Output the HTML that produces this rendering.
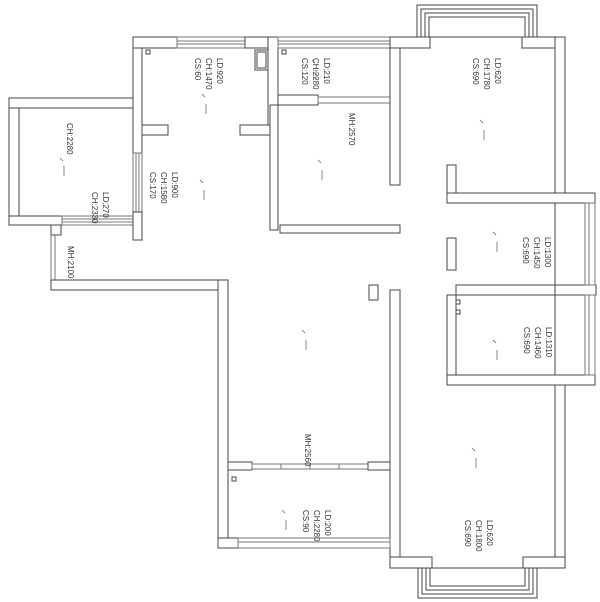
<!DOCTYPE html>
<html><head><meta charset="utf-8"><style>
html,body{margin:0;padding:0;background:#fff;}
svg{display:block}
text{font-family:"Liberation Sans",sans-serif;fill:#333;font-size:8px}
</style></head><body>
<svg width="600" height="602" viewBox="0 0 600 602" xmlns="http://www.w3.org/2000/svg">
<g fill="#fff" stroke="#444" stroke-width="1">
<rect x="9" y="98" width="10" height="127"/>
<rect x="9" y="98" width="124" height="10"/>
<rect x="9" y="216" width="53" height="9"/>
<rect x="62" y="216" width="71" height="9" stroke="#777"/>
<line x1="62" y1="219" x2="133" y2="219" stroke="#777"/>
<line x1="62" y1="222" x2="133" y2="222" stroke="#777"/>
<rect x="51" y="225" width="10" height="10"/>
<line x1="51" y1="235" x2="51" y2="280" stroke="#777"/>
<line x1="55" y1="235" x2="55" y2="280" stroke="#777"/>
<rect x="133" y="37" width="9" height="116"/>
<rect x="133" y="153" width="9" height="59" stroke="#777"/>
<line x1="136" y1="153" x2="136" y2="212" stroke="#777"/>
<line x1="139" y1="153" x2="139" y2="212" stroke="#777"/>
<rect x="133" y="212" width="9" height="28"/>
<rect x="133" y="37" width="44" height="11"/>
<rect x="177" y="37" width="68" height="11" stroke="#777"/>
<line x1="177" y1="41" x2="245" y2="41" stroke="#777"/>
<line x1="177" y1="44" x2="245" y2="44" stroke="#777"/>
<rect x="245" y="37" width="33" height="11"/>
<rect x="268" y="37" width="10" height="95"/>
<rect x="142" y="125" width="26" height="10"/>
<rect x="240" y="125" width="30" height="10"/>
<path d="M255 50 h13 v20 h-13 z M257 52 h9 v16 h-9 z" stroke="#444"/>
<rect x="146" y="50" width="4" height="4"/>
<rect x="278" y="37" width="112" height="11" stroke="#777"/>
<line x1="278" y1="41" x2="390" y2="41" stroke="#777"/>
<line x1="278" y1="44" x2="390" y2="44" stroke="#777"/>
<rect x="278" y="95" width="40" height="10"/>
<rect x="318" y="97" width="72" height="6" stroke="#777"/>
<rect x="282" y="50" width="4" height="4"/>
<rect x="270" y="105" width="8" height="125"/>
<rect x="390" y="37" width="10" height="148"/>
<rect x="390" y="37" width="40" height="11"/>
<rect x="522" y="37" width="43" height="11"/>
<rect x="555" y="37" width="10" height="158"/>
<rect x="417" y="5" width="120" height="32" fill="none"/>
<rect x="421" y="9" width="112" height="28" fill="none"/>
<rect x="425" y="13" width="104" height="24" fill="none"/>
<rect x="429" y="17" width="96" height="20" fill="none"/>
<rect x="447" y="165" width="9" height="38"/>
<rect x="447" y="193" width="148" height="10"/>
<rect x="447" y="238" width="9" height="32"/>
<rect x="456" y="285" width="140" height="10"/>
<rect x="447" y="295" width="9" height="90"/>
<rect x="447" y="375" width="148" height="10"/>
<line x1="555" y1="203" x2="555" y2="375"/>
<rect x="585" y="203" width="10" height="82" stroke="#777"/>
<line x1="589" y1="203" x2="589" y2="285" stroke="#777"/>
<rect x="585" y="295" width="10" height="80" stroke="#777"/>
<line x1="589" y1="295" x2="589" y2="375" stroke="#777"/>
<rect x="456" y="300" width="4" height="4"/>
<rect x="456" y="310" width="4" height="4"/>
<rect x="280" y="225" width="120" height="8"/>
<rect x="51" y="280" width="177" height="10"/>
<rect x="369" y="285" width="9" height="15"/>
<rect x="390" y="290" width="10" height="278"/>
<rect x="218" y="280" width="10" height="268"/>
<rect x="228" y="462" width="24" height="8"/>
<rect x="252" y="464" width="116" height="5" stroke="#777"/>
<line x1="281" y1="464" x2="281" y2="469" stroke="#777"/>
<line x1="310" y1="464" x2="310" y2="469" stroke="#777"/>
<line x1="339" y1="464" x2="339" y2="469" stroke="#777"/>
<rect x="368" y="462" width="22" height="8"/>
<rect x="218" y="538" width="20" height="10"/>
<rect x="238" y="538" width="152" height="10" stroke="#777"/>
<line x1="238" y1="542" x2="390" y2="542" stroke="#777"/>
<rect x="232" y="477" width="4" height="4"/>
<rect x="555" y="385" width="10" height="183"/>
<rect x="390" y="557" width="42" height="11"/>
<rect x="523" y="557" width="42" height="11"/>
<rect x="418" y="568" width="119" height="30" fill="none"/>
<rect x="422" y="568" width="111" height="26" fill="none"/>
<rect x="426" y="568" width="103" height="22" fill="none"/>
<rect x="430" y="568" width="95" height="18" fill="none"/>
</g>
<g>
<text transform="translate(217,58) rotate(90)"><tspan x="0" y="0">LD:920</tspan><tspan x="0" y="11">CH:1470</tspan><tspan x="0" y="22">CS:60</tspan></text>
<text transform="translate(324,58) rotate(90)"><tspan x="0" y="0">LD:210</tspan><tspan x="0" y="11">CH:2280</tspan><tspan x="0" y="22">CS:120</tspan></text>
<text transform="translate(495,58) rotate(90)"><tspan x="0" y="0">LD:620</tspan><tspan x="0" y="11">CH:1780</tspan><tspan x="0" y="22">CS:690</tspan></text>
<text transform="translate(67,123) rotate(90)">CH:2280</text>
<text transform="translate(103,192) rotate(90)"><tspan x="0" y="0">LD:270</tspan><tspan x="0" y="11">CH:2330</tspan></text>
<text transform="translate(172,172) rotate(90)"><tspan x="0" y="0">LD:900</tspan><tspan x="0" y="11">CH:1580</tspan><tspan x="0" y="22">CS:170</tspan></text>
<text transform="translate(349,113) rotate(90)">MH:2570</text>
<text transform="translate(68,246) rotate(90)">MH:2100</text>
<text transform="translate(545,237) rotate(90)"><tspan x="0" y="0">LD:1300</tspan><tspan x="0" y="11">CH:1450</tspan><tspan x="0" y="22">CS:690</tspan></text>
<text transform="translate(546,327) rotate(90)"><tspan x="0" y="0">LD:1310</tspan><tspan x="0" y="11">CH:1460</tspan><tspan x="0" y="22">CS:690</tspan></text>
<text transform="translate(305,434) rotate(90)">MH:2560</text>
<text transform="translate(325,510) rotate(90)"><tspan x="0" y="0">LD:200</tspan><tspan x="0" y="11">CH:2280</tspan><tspan x="0" y="22">CS:90</tspan></text>
<text transform="translate(487,520) rotate(90)"><tspan x="0" y="0">LD:620</tspan><tspan x="0" y="11">CH:1800</tspan><tspan x="0" y="22">CS:690</tspan></text>
</g>
<g stroke="#555" stroke-width="0.7" fill="none">
<path d="M202 94 l3 3 M206 104 v10"/><path d="M60 158 l3 3 M64 166 v10"/><path d="M200 180 l3 3 M204 190 v10"/>
<path d="M312 60 l3 3 M316 70 v10"/><path d="M318 160 l3 3 M322 170 v10"/><path d="M480 120 l3 3 M484 130 v10"/>
<path d="M493 232 l3 3 M497 242 v10"/><path d="M493 340 l3 3 M497 350 v10"/><path d="M302 330 l3 3 M306 340 v10"/>
<path d="M472 448 l3 3 M476 458 v10"/><path d="M282 510 l3 3 M286 520 v10"/>
</g>
</svg>
</body></html>
